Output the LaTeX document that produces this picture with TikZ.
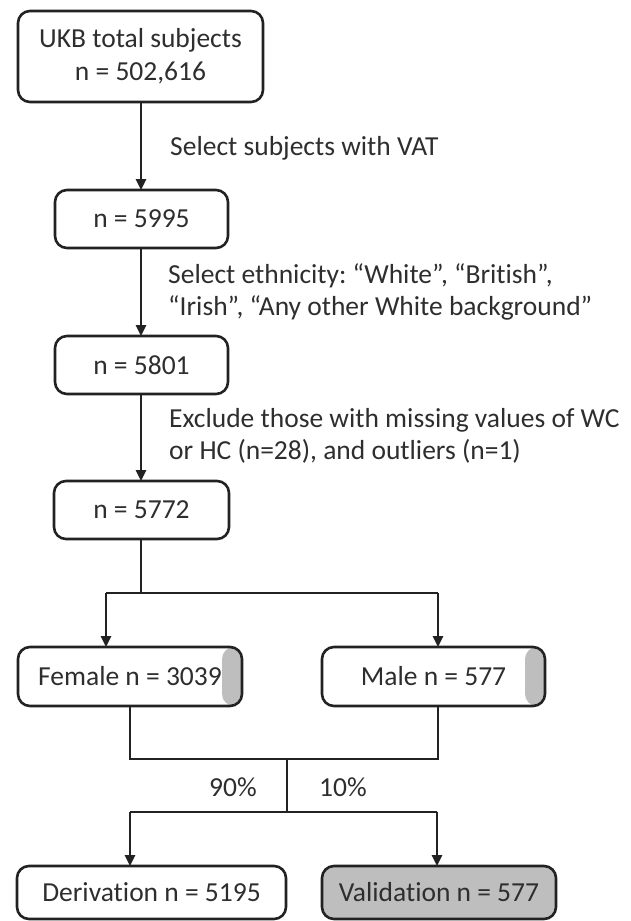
\documentclass[tikz,border=0pt]{standalone}
\usepackage{fontspec}
\setmainfont{Carlito}[Ligatures=NoCommon]
\frenchspacing
\usetikzlibrary{arrows.meta,positioning}
\definecolor{inkc}{HTML}{222222}
\definecolor{textc}{HTML}{2E2E2E}
\definecolor{bandc}{HTML}{BEBEBE}
\tikzset{
  flowbox/.style={draw=inkc, line width=2.6pt, rounded corners=12pt, fill=white,
    outer sep=0pt, inner sep=0pt, text=textc, align=center,
    font=\fontsize{27.5}{33}\selectfont},
  banded/.style={path picture={\fill[bandc] ([xshift=-20pt]path picture bounding box.north east) rectangle (path picture bounding box.south east);}},
  conn/.style={draw=inkc, line width=2.6pt},
  arr/.style={conn, -{Triangle[length=11pt,width=10pt]}},
  note/.style={text=textc, align=left, inner sep=0pt, anchor=west,
    font=\fontsize{27.5}{32}\selectfont},
  pct/.style={text=textc, inner sep=0pt, font=\fontsize{27.5}{32}\selectfont}
}
\begin{document}
\begin{tikzpicture}[x=1pt,y=1pt]
\useasboundingbox[fill=white] (0,0) rectangle (630,-921);
% boxes
\node[flowbox, minimum width=245pt, minimum height=91pt] (top) at (140.5,-56.5) {UKB total subjects\\n = 502,616};
\node[flowbox, minimum width=173pt, minimum height=58pt] (b1) at (141.5,-219) {n = 5995};
\node[flowbox, minimum width=173pt, minimum height=58pt] (b2) at (141.5,-365) {n = 5801};
\node[flowbox, minimum width=175pt, minimum height=58pt] (b3) at (141.5,-510) {n = 5772};
\node[flowbox, banded, minimum width=224pt, minimum height=59pt] (fem) at (130,-676.5) {Female n = 3039};
\node[flowbox, banded, minimum width=223pt, minimum height=59pt] (male) at (433.5,-676.5) {Male n = 577};
\node[flowbox, minimum width=269pt, minimum height=53pt] (der) at (151.5,-892.5) {Derivation n = 5195};
\node[flowbox, fill=bandc, minimum width=234pt, minimum height=53pt] (val) at (439,-892.5) {Validation n = 577};
% helper coordinates
\coordinate (s1) at (141,-593);
\coordinate (sl) at (106,-593);
\coordinate (sr) at (438,-593);
\coordinate (jl) at (130,-759);
\coordinate (jr) at (438,-759);
\coordinate (jm) at (287,-759);
\coordinate (dm) at (287,-812);
\coordinate (dl) at (130,-812);
\coordinate (dr) at (437,-812);
% connectors
\draw[arr] (top.south -| 141,0) -- (b1.north -| 141,0);
\draw[arr] (b1.south -| 141,0) -- (b2.north -| 141,0);
\draw[arr] (b2.south -| 141,0) -- (b3.north -| 141,0);
\draw[conn] (b3.south -| s1) -- (s1);
\draw[conn] (sl) -- (sr);
\draw[arr] (sl) -- (fem.north -| sl);
\draw[arr] (sr) -- (male.north -| sr);
\draw[conn] (fem.south -| jl) -- (jl) -- (jr) -- (male.south -| jr);
\draw[conn] (jm) -- (dm);
\draw[conn] (dl) -- (dr);
\draw[arr] (dl) -- (der.north -| dl);
\draw[arr] (dr) -- (val.north -| dr);
% notes
\node[note] (n1) at (170,-148) {Select subjects with VAT};
\node[note] (n2) at (168,-291.5) {Select ethnicity: “White”, “British”,\\“Irish”, “Any other White background”};
\node[note] (n3) at (169,-436) {Exclude those with missing values of WC\\or HC (n=28), and outliers (n=1)};
\node[pct] (p90) at (233,-787) {90\%};
\node[pct] (p10) at (343,-787) {10\%};
\end{tikzpicture}
\end{document}
